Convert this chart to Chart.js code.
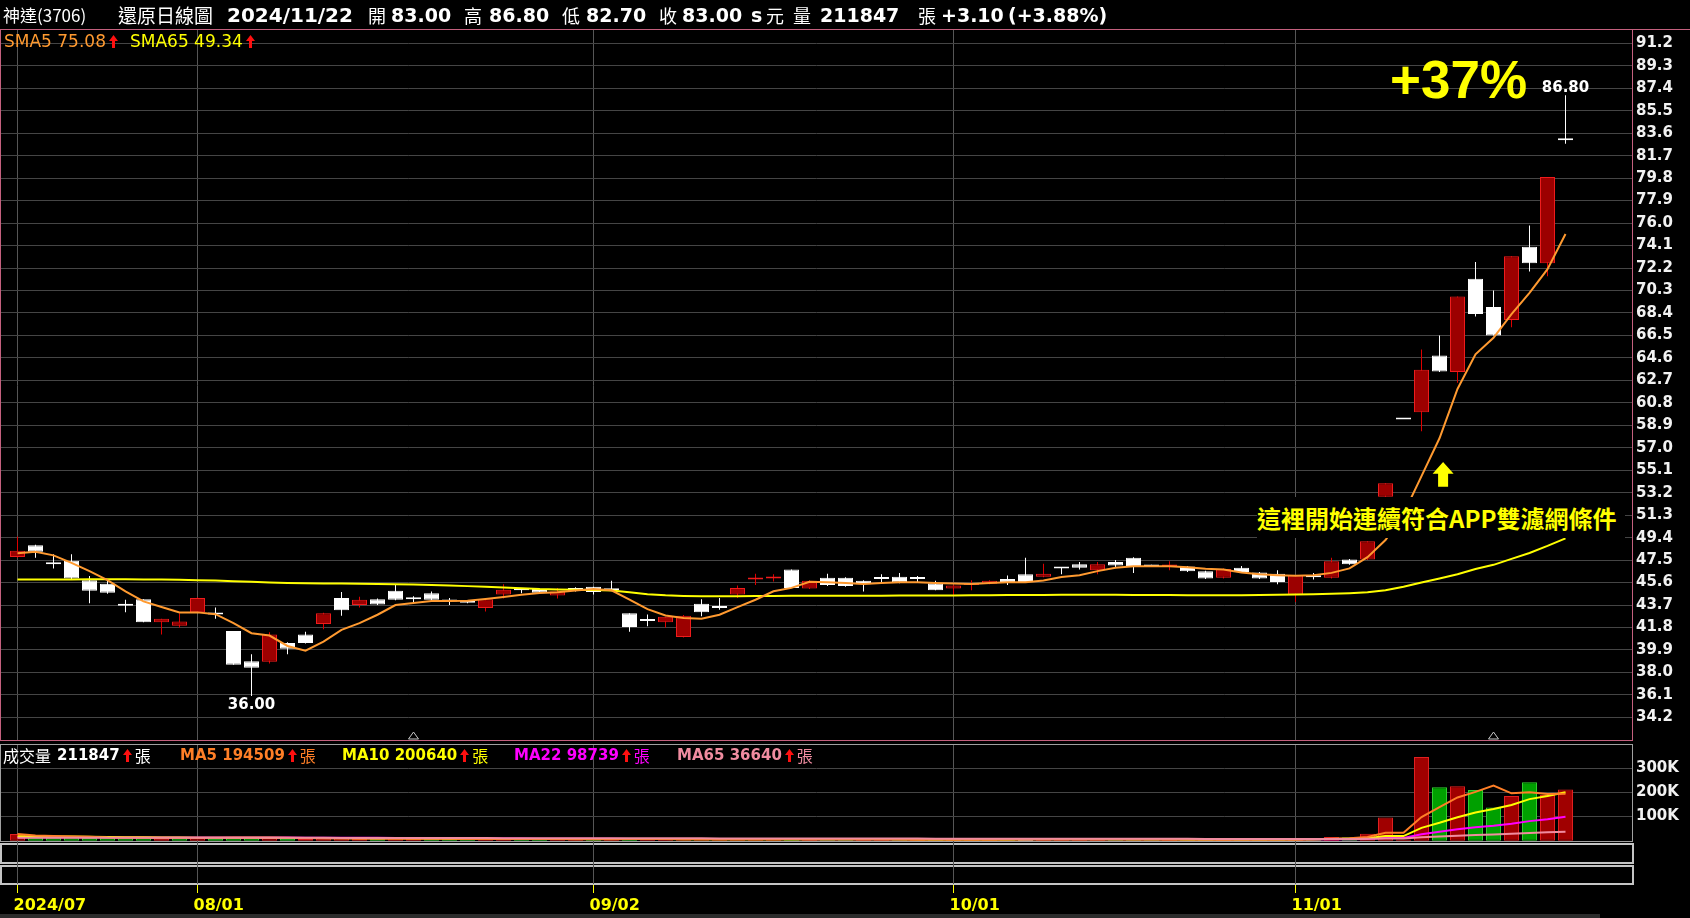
<!DOCTYPE html>
<html>
<head>
<meta charset="utf-8">
<title>神達(3706) 還原日線圖</title>
<script src="https://cdn.jsdelivr.net/npm/chart.js@4.4.1/dist/chart.umd.min.js"></script>
<style>
  html, body { margin: 0; padding: 0; background: #000; }
  body { width: 1690px; height: 918px; position: relative; overflow: hidden; color: #fff; }
  canvas { position: absolute; left: 0; }
  .grp { position: absolute; display: flex; align-items: center; gap: 3px; white-space: nowrap; }
</style>
</head>
<body>
<canvas id="price" width="1690" height="742" style="top:0"></canvas>
<canvas id="volume" width="1690" height="176" style="top:742px"></canvas>
<div id="overlay"></div>
<script>
// trading days
var dates = [
  '2024/07/16','2024/07/17','2024/07/18','2024/07/19','2024/07/22','2024/07/23','2024/07/26','2024/07/29','2024/07/30','2024/07/31',
  '2024/08/01','2024/08/02','2024/08/05','2024/08/06','2024/08/07','2024/08/08','2024/08/09','2024/08/12','2024/08/13','2024/08/14',
  '2024/08/15','2024/08/16','2024/08/19','2024/08/20','2024/08/21','2024/08/22','2024/08/23','2024/08/26','2024/08/27','2024/08/28',
  '2024/08/29','2024/08/30','2024/09/02','2024/09/03','2024/09/04','2024/09/05','2024/09/06','2024/09/09','2024/09/10','2024/09/11',
  '2024/09/12','2024/09/13','2024/09/16','2024/09/18','2024/09/19','2024/09/20','2024/09/23','2024/09/24','2024/09/25','2024/09/26',
  '2024/09/27','2024/09/30','2024/10/01','2024/10/04','2024/10/07','2024/10/08','2024/10/09','2024/10/11','2024/10/14','2024/10/15',
  '2024/10/16','2024/10/17','2024/10/18','2024/10/21','2024/10/22','2024/10/23','2024/10/24','2024/10/25','2024/10/28','2024/10/29',
  '2024/10/30','2024/11/01','2024/11/04','2024/11/05','2024/11/06','2024/11/07','2024/11/08','2024/11/11','2024/11/12','2024/11/13',
  '2024/11/14','2024/11/15','2024/11/18','2024/11/19','2024/11/20','2024/11/21','2024/11/22'
];

var opens = [
  47.76,48.75,47.2,47.45,45.8,45.5,43.7,44.2,42.25,41.95,
  43.1,42.95,41.5,38.95,38.9,40.5,41.2,42.1,44.3,43.7,
  44.2,44.9,44.2,44.7,44.0,44.05,43.45,44.6,44.95,45.05,
  44.5,45.15,45.25,44.95,43.0,42.4,42.25,41.0,43.8,43.5,
  44.6,45.85,45.95,46.7,45.1,46.0,46.0,45.75,45.95,46.1,
  45.95,45.55,45.1,45.4,45.5,45.9,46.3,46.1,46.9,47.15,
  46.65,47.35,47.7,47.05,46.95,46.95,46.55,46.0,46.85,46.45,
  46.35,44.6,46.1,46.0,47.55,47.55,52.85,59.4,60.0,64.8,
  63.4,71.3,68.9,67.8,74.0,72.6,83.0
];
var highs = [
  49.5,48.8,48.0,48.0,46.15,45.85,44.15,44.2,42.55,43.0,
  44.35,43.5,41.5,39.55,41.4,40.55,41.45,43.05,44.8,44.4,
  44.25,45.4,44.45,44.85,44.3,44.1,44.3,45.45,45.15,45.1,
  45.15,45.2,45.25,45.75,43.0,42.9,42.7,42.85,44.2,44.3,
  45.35,46.35,46.3,46.7,45.8,46.35,46.05,45.8,46.3,46.4,
  46.15,45.75,45.4,45.8,45.8,46.2,47.7,47.2,46.9,47.35,
  47.35,47.5,47.75,47.1,47.4,47.0,46.6,46.8,47.0,46.5,
  46.65,46.25,46.4,47.7,47.6,49.1,54.0,59.4,65.3,66.5,
  69.8,72.7,70.3,73.2,75.8,79.9,86.8
];
var lows = [
  47.7,47.7,46.8,45.9,43.85,44.65,43.1,42.25,41.2,41.8,
  43.05,42.55,38.65,36.0,38.75,39.55,40.45,41.65,42.8,43.5,
  43.7,44.1,43.95,44.1,43.7,43.85,43.15,44.25,44.7,44.7,
  44.25,44.85,44.6,44.9,41.45,41.9,41.8,40.95,42.75,43.3,
  44.3,45.4,45.7,45.15,45.05,45.3,45.25,44.85,45.55,45.55,
  45.65,44.95,44.5,44.95,45.45,45.4,45.65,46.05,46.3,46.7,
  46.3,46.9,46.4,46.95,46.65,46.5,45.9,45.95,46.4,45.9,
  45.45,43.95,45.85,45.95,47.1,47.5,52.8,59.4,58.4,63.4,
  62.5,68.1,66.5,67.2,71.9,71.5,82.7
];
var closes = [
  48.3,48.2,47.15,45.95,44.9,44.75,43.65,42.25,42.55,42.3,
  44.3,42.9,38.65,38.4,41.2,40.0,40.5,43.0,43.25,44.15,
  43.75,44.15,44.2,44.15,44.0,43.9,44.2,45.0,44.95,44.75,
  44.85,44.9,44.8,44.95,41.85,42.35,42.7,42.8,43.1,43.45,
  45.15,45.9,46.0,45.15,45.75,45.4,45.3,45.45,45.9,45.6,
  45.9,44.95,45.35,45.45,45.75,45.65,45.65,46.35,46.8,46.85,
  47.15,47.05,47.0,46.95,47.0,46.55,45.95,46.75,46.5,45.95,
  45.65,46.2,46.05,47.4,47.15,49.1,54.0,59.4,63.6,63.45,
  69.8,68.3,66.5,73.2,72.6,79.9,83.0
];
var sma5 = [
  48.07,48.21,47.9,47.27,46.57,45.8,44.86,44.01,43.53,43.08,
  43.08,42.93,42.17,41.32,41.12,40.24,39.84,40.61,41.6,42.17,
  42.88,43.7,43.87,44.04,44.04,44.07,44.21,44.38,44.58,44.72,
  44.78,44.92,45.06,44.95,44.15,43.36,42.82,42.6,42.54,42.88,
  43.53,44.15,44.86,45.15,45.66,45.63,45.57,45.49,45.57,45.63,
  45.63,45.57,45.52,45.49,45.57,45.63,45.63,45.77,46.08,46.22,
  46.57,46.85,46.99,46.99,46.99,46.9,46.76,46.71,46.45,46.3,
  46.22,46.17,46.22,46.42,46.8,47.75,49.2,51.4,54.6,57.8,
  61.97,64.9,66.3,68.3,70.1,72.1,75.08
];
var sma65 = [
  45.86,45.86,45.87,45.87,45.88,45.88,45.88,45.87,45.86,45.84,
  45.8,45.77,45.72,45.66,45.6,45.57,45.55,45.53,45.52,45.5,
  45.48,45.45,45.43,45.4,45.35,45.3,45.25,45.18,45.12,45.05,
  45.02,45.0,44.97,44.93,44.78,44.62,44.52,44.47,44.45,44.45,
  44.45,44.46,44.47,44.48,44.48,44.48,44.49,44.49,44.49,44.5,
  44.5,44.5,44.5,44.52,44.53,44.54,44.55,44.56,44.57,44.57,
  44.57,44.57,44.56,44.55,44.54,44.53,44.52,44.52,44.53,44.55,
  44.57,44.6,44.62,44.65,44.7,44.78,44.95,45.25,45.6,45.95,
  46.3,46.75,47.1,47.6,48.1,48.7,49.34
];

// volume, 張
var volumes = [
  27800,15600,12100,14300,11200,12400,9800,13100,8900,10300,
  12200,9100,14400,15200,11300,8800,7900,9200,10100,7800,
  7200,8900,7600,6900,6800,6100,7700,7100,6200,6800,
  6000,6300,7100,5900,9200,7000,6100,6300,6900,5800,
  6200,7100,6000,5200,5800,6100,5100,4900,5700,5000,
  4800,5300,5100,5600,4900,4700,8200,6100,5800,5200,
  5000,5800,5100,4700,4900,5200,4800,5000,4600,4800,
  5300,9100,6800,15800,14700,29300,96200,5400,346100,221300,
  224800,209700,137200,185300,241600,189400,211847
];
var volMa5 = [
  28000,22000,19000,17000,16000,13000,12000,12000,11000,11000,
  11000,11000,12000,12000,12000,12000,11000,10000,9000,9000,
  8000,9000,8000,8000,8000,7000,7000,7000,7000,7000,
  7000,6000,6000,6000,7000,7000,7000,7000,7000,6000,
  6000,6000,6000,6000,6000,6000,6000,6000,6000,5000,
  5000,5000,5000,5000,5000,5000,6000,6000,6000,6000,
  6000,6000,5000,5000,5000,5000,5000,5000,5000,5000,
  5000,6000,6000,8000,10000,15000,33000,33000,98000,139000,
  179000,202000,228000,196000,200000,193000,194509
];
var volMa10 = [
  18000,18000,17000,17000,16000,15000,14000,14000,13000,13000,
  12000,12000,12000,12000,12000,11000,11000,11000,11000,10000,
  10000,10000,9000,9000,8000,8000,8000,7000,7000,7000,
  7000,7000,7000,7000,7000,7000,7000,6000,6000,6000,
  6000,6000,6000,6000,6000,6000,6000,6000,6000,6000,
  5000,5000,5000,5000,5000,5000,6000,6000,6000,6000,
  6000,6000,6000,6000,6000,5000,5000,5000,5000,5000,
  5000,5000,6000,7000,8000,10000,19000,19000,53000,74000,
  97000,117000,131000,148000,172000,185000,200640
];
var volMa22 = [
  14000,14000,14000,14000,14000,14000,13000,13000,13000,13000,
  13000,13000,13000,13000,13000,13000,12000,12000,12000,12000,
  12000,11000,11000,10000,10000,10000,9000,9000,9000,8000,
  8000,8000,8000,8000,7000,7000,7000,7000,7000,7000,
  7000,7000,7000,7000,6000,6000,6000,6000,6000,6000,
  6000,6000,6000,6000,6000,6000,6000,6000,6000,6000,
  6000,6000,6000,6000,6000,6000,5000,5000,5000,5000,
  5000,5000,5000,6000,6000,7000,11000,11000,27000,37000,
  47000,56000,62000,70000,81000,89000,98739
];
var volMa65 = [
  12000,12000,12000,12000,12000,12000,12000,12000,12000,12000,
  12000,12000,12000,12000,12000,12000,12000,12000,11000,11000,
  11000,11000,11000,11000,11000,11000,11000,10000,10000,10000,
  10000,10000,10000,10000,10000,10000,10000,10000,10000,9000,
  9000,9000,9000,9000,9000,9000,9000,9000,9000,9000,
  9000,8000,8000,8000,8000,8000,8000,8000,8000,8000,
  8000,8000,8000,8000,8000,8000,7000,7000,7000,7000,
  7000,7000,7000,7000,7000,8000,9000,9000,14000,17000,
  21000,24000,26000,29000,32000,35000,36640
];

// axis ticks
var priceTicks = [34.2,36.1,38.0,39.9,41.8,43.7,45.6,47.5,49.4,51.3,53.2,55.1,57.0,58.9,60.8,62.7,
  64.6,66.5,68.4,70.3,72.2,74.1,76.0,77.9,79.8,81.7,83.6,85.5,87.4,89.3,91.2];
var volTicks = [100000, 200000, 300000];
var monthTickDates = ['2024/07/16','2024/08/01','2024/09/02','2024/10/01','2024/11/01'];
var monthTickLabels = ['2024/07','08/01','09/02','10/01','11/01'];
var markerDates = ['2024/08/19','2024/11/18'];

var n = dates.length, last = n - 1;
var monthIdx = monthTickDates.map(function (d) { return dates.indexOf(d); });
var markerIdx = markerDates.map(function (d) { return dates.indexOf(d); });
var idx = dates.map(function (d, i) { return i; });

// x: one slot = 18px, first candle at 17.5px
var XMIN = -16.5 / 18, XMAX = XMIN + 1631 / 18;
var YMIN = 32.204, YMAX = 92.325;
var VMIN = -1200, VMAX = 400000;

var RED_FILL = '#9c0000', RED_LINE = '#ee1c1c', WHITE = '#ffffff';
var up = idx.map(function (i) { return closes[i] > opens[i]; });

var xScale = {
  type: 'linear', min: XMIN, max: XMAX, offset: false,
  afterBuildTicks: function (s) { s.ticks = monthIdx.map(function (v) { return { value: v }; }); },
  afterFit: function (s) { s.height = 0; s.paddingLeft = 0; s.paddingRight = 0; },
  ticks: { display: false },
  grid: { color: '#565656', drawTicks: false, offset: false },
  border: { display: false }
};
var axisFont = { family: 'DejaVu Sans', size: 15, weight: 'bold' };
function rightAxisFit(s) { s.width = 58; s.paddingTop = 0; s.paddingBottom = 0; }

var priceDecor = {
  id: 'priceDecor',
  afterDraw: function (chart) {
    var ctx = chart.ctx, a = chart.chartArea, x = chart.scales.x, y = chart.scales.y;
    ctx.save();
    ctx.strokeStyle = '#c4607e';
    ctx.lineWidth = 1;
    ctx.beginPath();
    ctx.moveTo(0, a.top - 0.5);
    ctx.lineTo(chart.width, a.top - 0.5);
    ctx.stroke();
    ctx.strokeRect(a.left - 0.5, a.top - 0.5, a.right - a.left + 1, a.bottom - a.top);

    // event markers along the bottom
    ctx.strokeStyle = '#c8c8c8';
    markerIdx.forEach(function (i) {
      var px = x.getPixelForValue(i);
      ctx.beginPath();
      ctx.moveTo(px, a.bottom - 9);
      ctx.lineTo(px - 5, a.bottom - 2);
      ctx.lineTo(px + 5, a.bottom - 2);
      ctx.closePath();
      ctx.stroke();
    });

    // highest / lowest labels
    var hi = Math.max.apply(null, highs), lo = Math.min.apply(null, lows);
    var hiI = highs.indexOf(hi), loI = lows.indexOf(lo);
    ctx.font = 'bold 15px "DejaVu Sans"';
    ctx.fillStyle = '#ffffff';
    ctx.textAlign = 'center';
    ctx.textBaseline = 'alphabetic';
    ctx.fillText(hi.toFixed(2), x.getPixelForValue(hiI), y.getPixelForValue(hi) - 3);
    ctx.textBaseline = 'top';
    ctx.fillText(lo.toFixed(2), x.getPixelForValue(loI), y.getPixelForValue(lo) + 2);

    // yellow arrow pointing at the start of the signal
    var ax = x.getPixelForValue(79.2), at = y.getPixelForValue(55.8), ab = y.getPixelForValue(53.7);
    var hh = (ab - at) * 0.48;
    ctx.fillStyle = '#ffff00';
    ctx.beginPath();
    ctx.moveTo(ax, at);
    ctx.lineTo(ax + 10.5, at + hh);
    ctx.lineTo(ax + 5, at + hh);
    ctx.lineTo(ax + 5, ab);
    ctx.lineTo(ax - 5, ab);
    ctx.lineTo(ax - 5, at + hh);
    ctx.lineTo(ax - 10.5, at + hh);
    ctx.closePath();
    ctx.fill();
    ctx.restore();
  }
};

new Chart(document.getElementById('price'), {
  type: 'bar',
  data: {
    datasets: [
      { type: 'line', label: 'SMA5', data: idx.map(function (i) { return { x: i, y: sma5[i] }; }),
        borderColor: '#ff9a30', borderWidth: 2, pointRadius: 0, tension: 0, order: 0 },
      { type: 'line', label: 'SMA65', data: idx.map(function (i) { return { x: i, y: sma65[i] }; }),
        borderColor: '#ffff00', borderWidth: 2, pointRadius: 0, tension: 0, order: 0 },
      { label: 'body', data: idx.map(function (i) { return { x: i, y: [opens[i], closes[i]] }; }),
        backgroundColor: up.map(function (u) { return u ? RED_FILL : WHITE; }),
        borderColor: up.map(function (u) { return u ? RED_LINE : WHITE; }),
        borderWidth: 1, borderSkipped: false, inflateAmount: 0, minBarLength: 2,
        barThickness: 15, grouped: false, order: 1 },
      { label: 'wick', data: idx.map(function (i) { return { x: i, y: [lows[i], highs[i]] }; }),
        backgroundColor: up.map(function (u) { return u ? '#dd0000' : WHITE; }),
        borderWidth: 0, inflateAmount: 0, barThickness: 1, grouped: false, order: 2 }
    ]
  },
  options: {
    responsive: false, animation: false, devicePixelRatio: 1,
    layout: { padding: { left: 1, top: 30, right: 0, bottom: 1 } },
    plugins: { legend: { display: false }, tooltip: { enabled: false } },
    scales: {
      x: xScale,
      y: {
        position: 'right', min: YMIN, max: YMAX,
        afterBuildTicks: function (s) { s.ticks = priceTicks.map(function (v) { return { value: v }; }); },
        afterFit: rightAxisFit,
        ticks: { color: '#f2f2f2', font: axisFont, padding: 4, autoSkip: false,
          callback: function (v) { return Number(v).toFixed(1); } },
        grid: { color: '#454545', drawTicks: false },
        border: { display: false }
      }
    }
  },
  plugins: [priceDecor]
});

var volColors = idx.map(function (i) {
  if (i === 0 || closes[i] > closes[i - 1]) return ['#a00000', '#e02020'];
  if (closes[i] < closes[i - 1]) return ['#00a000', '#30d030'];
  return ['#b0b0b0', '#ffffff'];
});

var volDecor = {
  id: 'volDecor',
  afterDraw: function (chart) {
    var ctx = chart.ctx, a = chart.chartArea, x = chart.scales.x;
    ctx.save();
    ctx.strokeStyle = '#a0a0a0';
    ctx.lineWidth = 1;
    ctx.strokeRect(a.left - 0.5, a.top + 0.5, a.right - a.left + 1, a.bottom - a.top);
    // two empty study panels under the volume
    ctx.strokeStyle = '#c4c4c4';
    ctx.lineWidth = 2;
    [[102, 121], [124, 142]].forEach(function (p) {
      ctx.strokeRect(a.left, p[0], a.right - a.left + 1, p[1] - p[0]);
    });
    ctx.lineWidth = 1;
    monthIdx.forEach(function (i, k) {
      var px = Math.round(x.getPixelForValue(i) - 0.5) + 0.5;
      ctx.strokeStyle = '#565656';
      ctx.beginPath(); ctx.moveTo(px, a.bottom); ctx.lineTo(px, 142); ctx.stroke();
      ctx.strokeStyle = '#ffff00';
      ctx.beginPath(); ctx.moveTo(px, 143); ctx.lineTo(px, 151); ctx.stroke();
      ctx.fillStyle = '#ffff00';
      ctx.font = 'bold 16px "DejaVu Sans"';
      ctx.textAlign = 'left';
      ctx.textBaseline = 'alphabetic';
      ctx.fillText(monthTickLabels[k], px - 4, 168);
    });
    ctx.fillStyle = '#2c2c2c';
    ctx.fillRect(0, 172, 1600, 4);
    ctx.restore();
  }
};

function volLine(label, arr, color) {
  return { type: 'line', label: label, data: idx.map(function (i) { return { x: i, y: arr[i] }; }),
    borderColor: color, borderWidth: 2, pointRadius: 0, tension: 0, order: 0 };
}

new Chart(document.getElementById('volume'), {
  type: 'bar',
  data: {
    datasets: [
      volLine('MA65', volMa65, '#f08ca0'),
      volLine('MA5', volMa5, '#ff7f27'),
      volLine('MA10', volMa10, '#ffff00'),
      volLine('MA22', volMa22, '#ff00ff'),
      { label: '成交量', data: idx.map(function (i) { return { x: i, y: volumes[i] }; }),
        backgroundColor: volColors.map(function (c) { return c[0]; }),
        borderColor: volColors.map(function (c) { return c[1]; }),
        borderWidth: 1, borderSkipped: false, inflateAmount: 0, barThickness: 15, grouped: false, order: 1 }
    ]
  },
  options: {
    responsive: false, animation: false, devicePixelRatio: 1,
    layout: { padding: { left: 1, top: 2, right: 0, bottom: 77 } },
    plugins: { legend: { display: false }, tooltip: { enabled: false } },
    scales: {
      x: xScale,
      y: {
        position: 'right', min: VMIN, max: VMAX,
        afterBuildTicks: function (s) { s.ticks = volTicks.map(function (v) { return { value: v }; }); },
        afterFit: rightAxisFit,
        ticks: { color: '#f2f2f2', font: axisFont, padding: 4, autoSkip: false,
          callback: function (v) { return (v / 1000) + 'K'; } },
        grid: { color: '#454545', drawTicks: false },
        border: { display: false }
      }
    }
  },
  plugins: [volDecor]
});

// ---- texts ----
var ov = document.getElementById('overlay');
function span(parent, text, css) {
  var s = document.createElement('span');
  s.textContent = text;
  s.style.cssText = css || '';
  parent.appendChild(s);
  return s;
}
function put(text, left, top, lh, css) {
  return span(ov, text, 'position:absolute;white-space:nowrap;left:' + left + 'px;top:' + top + 'px;line-height:' + lh + 'px;' + css);
}
function upArrow(parent) {
  var ns = 'http://www.w3.org/2000/svg';
  var svg = document.createElementNS(ns, 'svg');
  svg.setAttribute('width', '9'); svg.setAttribute('height', '13');
  var p = document.createElementNS(ns, 'polygon');
  p.setAttribute('points', '4.5,0 9,6 6,6 6,13 3,13 3,6 0,6');
  p.setAttribute('fill', '#ff1010');
  svg.appendChild(p);
  parent.appendChild(svg);
}
function group(left, top) {
  var g = document.createElement('div');
  g.className = 'grp';
  g.style.left = left + 'px'; g.style.top = top + 'px'; g.style.height = '20px';
  ov.appendChild(g);
  return g;
}

var NUM = 'font-family:"DejaVu Sans";font-weight:bold;font-size:19px;color:#fff;';
var CJK = 'font-family:"Noto Sans CJK TC";font-size:18px;color:#fff;';
var chg = closes[last] - closes[last - 1];
var pct = chg / closes[last - 1] * 100;
var sign = chg >= 0 ? '+' : '';
put('神達(3706)', 3, 0, 30, 'font-family:"Noto Sans CJK TC";font-size:17px;color:#fff;');
put('還原日線圖', 118, 0, 30, CJK + 'font-size:19px;');
[
  [dates[last], 227, NUM + 'font-size:20px;'], ['開', 368, CJK], [opens[last].toFixed(2), 391, NUM],
  ['高', 464, CJK], [highs[last].toFixed(2), 489, NUM], ['低', 562, CJK], [lows[last].toFixed(2), 586, NUM],
  ['收', 659, CJK], [closes[last].toFixed(2), 682, NUM], ['s', 751, NUM], ['元', 766, CJK],
  ['量', 793, CJK], [String(volumes[last]), 820, NUM], ['張', 918, CJK],
  [sign + chg.toFixed(2), 941, NUM], ['(' + sign + pct.toFixed(2) + '%)', 1008, NUM]
].forEach(function (h) { put(h[0], h[1], 0, 30, h[2]); });

// price legend
var g = group(4, 31);
span(g, 'SMA5 ' + sma5[last].toFixed(2), 'font-family:"DejaVu Sans";font-size:17px;color:#ff9a30;');
upArrow(g);
g = group(130, 31);
span(g, 'SMA65 ' + sma65[last].toFixed(2), 'font-family:"DejaVu Sans";font-size:17px;color:#ffff00;');
upArrow(g);

// volume legend
var volLegend = [
  [3, '成交量', String(volumes[last]), '#ffffff'],
  [180, 'MA5', String(volMa5[last]), '#ff7f27'],
  [342, 'MA10', String(volMa10[last]), '#ffff00'],
  [514, 'MA22', String(volMa22[last]), '#ff00ff'],
  [677, 'MA65', String(volMa65[last]), '#f08ca0']
];
volLegend.forEach(function (v) {
  var gg = group(v[0], 745);
  if (v[1] === '成交量') {
    span(gg, v[1], 'font-family:"Noto Sans CJK TC";font-size:16px;color:' + v[3] + ';margin-right:3px;');
    span(gg, v[2], 'font-family:"DejaVu Sans";font-weight:bold;font-size:15px;color:' + v[3] + ';');
  } else {
    span(gg, v[1] + ' ' + v[2], 'font-family:"DejaVu Sans";font-weight:bold;font-size:15px;color:' + v[3] + ';');
  }
  upArrow(gg);
  span(gg, '張', 'font-family:"Noto Sans CJK TC";font-size:16px;color:' + v[3] + ';');
});

// annotations
put('+37%', 1390, 53, 53, 'font-family:"Liberation Sans";font-weight:bold;font-size:53px;color:#ffff00;line-height:1;');
put('這裡開始連續符合APP雙濾網條件', 1257, 497, 41,
  'font-family:"Noto Sans CJK TC";font-weight:bold;font-size:24px;color:#ffff00;background:#000;width:368px;height:41px;');
</script>
</body>
</html>
